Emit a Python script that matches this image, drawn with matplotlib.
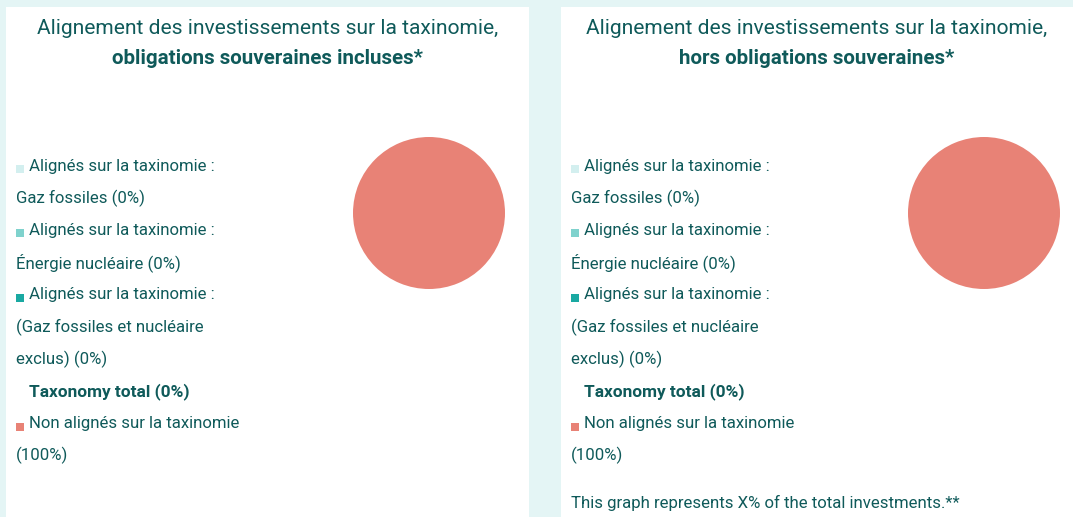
import matplotlib.pyplot as plt
from matplotlib.patches import Rectangle

W, H = 1073, 517

titles = ["obligations souveraines incluses*", "hors obligations souveraines*"]
title_top = "Alignement des investissements sur la taxinomie,"
labels = [
    ("Alignés sur la taxinomie :", "Gaz fossiles (0%)"),
    ("Alignés sur la taxinomie :", "Énergie nucléaire (0%)"),
    ("Alignés sur la taxinomie :", "(Gaz fossiles et nucléaire", "exclus) (0%)"),
    ("Taxonomy total (0%)",),
    ("Non alignés sur la taxinomie", "(100%)"),
]
values = [0, 0, 0, 100]
colors = ["#d3efef", "#7fd2cd", "#1aa9a2", "#e88276"]
footnote = "This graph represents X% of the total investments.**"

TEXT = "#0f5a5a"
BG = "#e4f5f5"
plt.rcParams['font.family'] = ['Roboto', 'DejaVu Sans']


def fx(x):
    return x / W


def fy(y):
    return 1 - y / H


fig = plt.figure(figsize=(W / 100, H / 100), dpi=100, facecolor=BG)

panels = [(6, 529), (561, 1073)]
for i, (x0, x1) in enumerate(panels):
    fig.patches.append(Rectangle((fx(x0), 0), fx(x1 - x0), fy(7), transform=fig.transFigure,
                                 facecolor="white", edgecolor="none", zorder=-1))
    cx = (x0 + x1) / 2
    fig.text(fx(cx), fy(28), title_top, ha="center", va="center", fontsize=15.1,
             color=TEXT)
    fig.text(fx(cx), fy(59), titles[i], ha="center", va="center", fontsize=14.8,
             color=TEXT, fontweight="bold")

    # legend
    lx = x0 + 10
    y = 166
    ci = 0
    for entry in labels:
        if len(entry) == 1:
            fig.text(fx(lx + 13), fy(y), entry[0], ha="left", va="center", fontsize=12.4,
                     color=TEXT, fontweight="bold")
            y += 32.2
            continue
        fig.patches.append(Rectangle((fx(lx), fy(y + 7)), fx(8), 8 / H, transform=fig.transFigure,
                                     facecolor=colors[ci], edgecolor="none"))
        for j, line in enumerate(entry):
            fig.text(fx(lx + (13 if j == 0 else 0)), fy(y), line, ha="left", va="center",
                     fontsize=12.05, color=TEXT)
            y += 32.2
        ci += 1

    # pie
    pcx = x1 - 100 if i == 0 else x1 - 89
    r = 76
    ax = fig.add_axes([fx(pcx - r), fy(213 + r), fx(2 * r), 2 * r / H], zorder=2)
    ax.pie(values, colors=colors, startangle=90, counterclock=False,
           wedgeprops=dict(linewidth=0))
    ax.set_xlim(-1, 1)
    ax.set_ylim(-1, 1)
    ax.set_aspect("equal")

fig.text(fx(571), fy(503), footnote, ha="left", va="center", fontsize=12.05, color=TEXT)

fig.savefig("out.png", dpi=100, facecolor=BG)
